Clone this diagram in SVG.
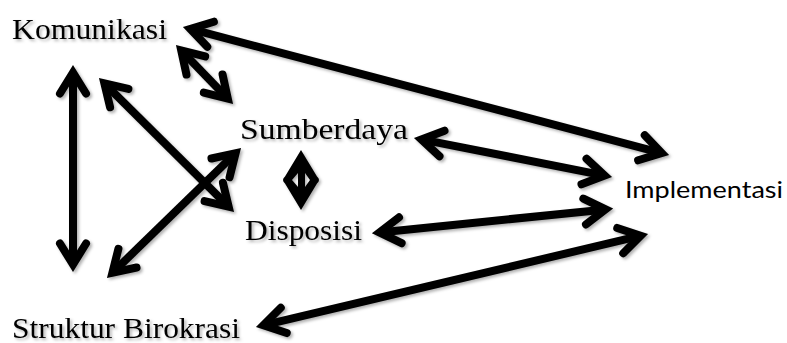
<svg xmlns="http://www.w3.org/2000/svg" width="787" height="343" viewBox="0 0 787 343">
  <style>
    .lbl { font-family: "Liberation Serif", "Times New Roman", serif; font-size: 30px; fill: #000; }
    .sans { font-family: Lato, "Open Sans", "Liberation Sans", sans-serif; font-size: 23px; fill: #000; }
    .link { fill: none; stroke: #000; stroke-width: 8; stroke-linecap: butt;
            marker-start: url(#head); marker-end: url(#head); }
  </style>
  <defs>
    <!-- open chevron arrowhead with a sharp tip; the line stops just short of the point -->
    <marker id="head" markerUnits="userSpaceOnUse" viewBox="-40 -30 60 60" markerWidth="60" markerHeight="60"
            refX="0" refY="0" orient="auto-start-reverse" overflow="visible">
      <path d="M-16,-13 L5,0 L-16,13" fill="none" stroke="#000" stroke-width="8" stroke-linecap="round" stroke-linejoin="miter" stroke-miterlimit="10"/>
    </marker>
    <filter id="shadow" x="-10%" y="-10%" width="120%" height="120%">
      <feDropShadow dx="2" dy="2" stdDeviation="1.5" flood-color="#000" flood-opacity="0.3"/>
    </filter>
  </defs>

  <g id="connectors" filter="url(#shadow)">
    <line class="link" x1="195.1" y1="30.2" x2="656.9" y2="151.8"/>
    <line class="link" x1="184.7" y1="54" x2="224.3" y2="95"/>
    <line class="link" x1="73" y1="77.5" x2="73" y2="259.5"/>
    <line class="link" x1="107.9" y1="86.8" x2="225.1" y2="203.2"/>
    <line class="link" x1="232" y1="156.7" x2="116" y2="269.3"/>
    <line class="link" x1="426.3" y1="140.4" x2="599.7" y2="174.6"/>
    <line class="link" x1="384.4" y1="231.9" x2="600.6" y2="209.9"/>
    <line class="link" x1="268.2" y1="324.1" x2="635.8" y2="236.9"/>
    <!-- short two-way link between Sumberdaya and Disposisi: both heads meet round the shaft -->
    <path d="M301,150 L317,176.5 Q321,180 317,183.5 L301,210 L285,183.5 Q281,180 285,176.5 Z
             M298,173 L298,187 L292,180 Z M305,173 L305,187 L310,180 Z"
          fill="#000" fill-rule="evenodd"/>
  </g>

  <g id="komunikasi" filter="url(#shadow)">
    <text class="lbl" x="12" y="39" textLength="155" lengthAdjust="spacingAndGlyphs">Komunikasi</text>
  </g>
  <g id="sumberdaya" filter="url(#shadow)">
    <text class="lbl" x="240" y="139" textLength="168" lengthAdjust="spacingAndGlyphs">Sumberdaya</text>
  </g>
  <g id="disposisi" filter="url(#shadow)">
    <text class="lbl" x="245" y="240" textLength="117" lengthAdjust="spacingAndGlyphs">Disposisi</text>
  </g>
  <g id="struktur-birokrasi" filter="url(#shadow)">
    <text class="lbl" x="12" y="338" textLength="228" lengthAdjust="spacingAndGlyphs">Struktur Birokrasi</text>
  </g>
  <g id="implementasi">
    <text class="sans" x="625" y="198" textLength="158" lengthAdjust="spacingAndGlyphs">Implementasi</text>
  </g>
</svg>
